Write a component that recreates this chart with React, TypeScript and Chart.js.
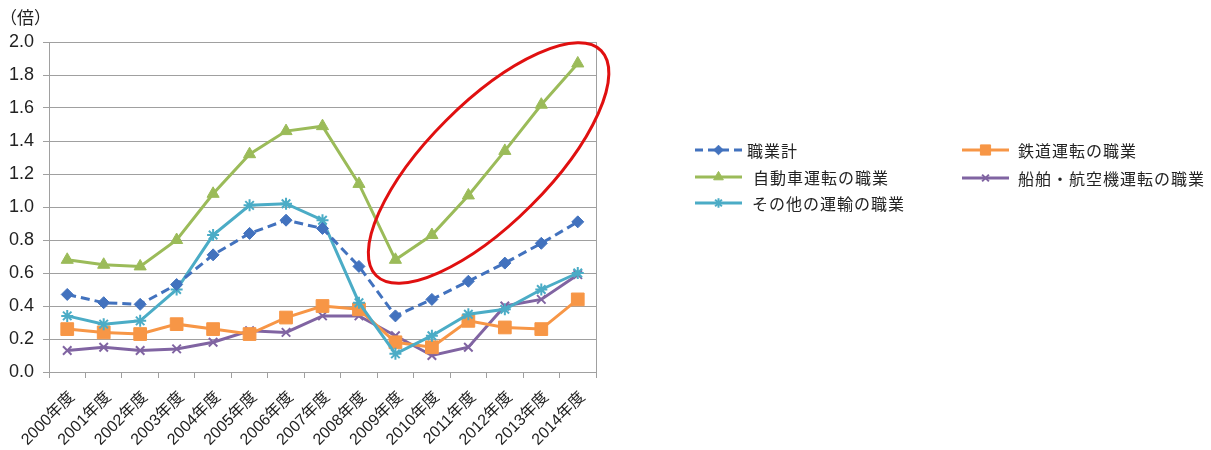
import React, { useEffect, useRef } from 'react';
import { Chart, registerables } from 'chart.js';
import { drawPoint } from 'chart.js/helpers';

Chart.register(...registerables);

const years = [
  '2000年度', '2001年度', '2002年度', '2003年度', '2004年度', '2005年度', '2006年度', '2007年度',
  '2008年度', '2009年度', '2010年度', '2011年度', '2012年度', '2013年度', '2014年度',
];
const allJobs = [0.47, 0.42, 0.41, 0.53, 0.71, 0.84, 0.92, 0.87, 0.64, 0.34, 0.44, 0.55, 0.66, 0.78, 0.91];
const carDriving = [0.68, 0.65, 0.64, 0.80, 1.08, 1.32, 1.46, 1.49, 1.14, 0.68, 0.83, 1.07, 1.34, 1.62, 1.87];
const otherTransport = [0.34, 0.29, 0.31, 0.50, 0.83, 1.01, 1.02, 0.92, 0.42, 0.11, 0.22, 0.35, 0.38, 0.50, 0.60];
const railDriving = [0.26, 0.24, 0.23, 0.29, 0.26, 0.23, 0.33, 0.40, 0.38, 0.18, 0.15, 0.31, 0.27, 0.26, 0.44];
const shipAirDriving = [0.13, 0.15, 0.13, 0.14, 0.18, 0.25, 0.24, 0.34, 0.34, 0.22, 0.10, 0.15, 0.40, 0.44, 0.59];

const seriesNames = ['職業計', '自動車運転の職業', 'その他の運輸の職業', '鉄道運転の職業', '船舶・航空機運転の職業'];
const yTicks = [0, 0.2, 0.4, 0.6, 0.8, 1.0, 1.2, 1.4, 1.6, 1.8, 2.0];
const unitLabel = '（倍）';

// highlight ellipse: ends of its long axis, in data coordinates (category index, value)
const ellipseFrom = { x: 8.47, y: 0.585 };
const ellipseTo = { x: 14.64, y: 1.948 };
const ellipseRatio = 0.378;

const CJK = '"Noto Sans CJK JP", sans-serif';
const LAT = '"Liberation Sans", Arial, "Noto Sans CJK JP", sans-serif';

const styles = [
  { color: '#4272BE', point: 'rectRot', radius: 6, dash: [9, 5], bw: 1 },
  { color: '#9BBB59', point: 'triangle', radius: 7, dash: [], bw: 1 },
  { color: '#4BACC6', point: 'star', radius: 6, dash: [], bw: 2 },
  { color: '#F79646', point: 'rect', radius: 9, dash: [], bw: 1 },
  { color: '#8064A2', point: 'crossRot', radius: 6, dash: [], bw: 2 },
];

const legendPos = [
  { x: 695, y: 150, tx: 747 },
  { x: 695, y: 177, tx: 753 },
  { x: 695, y: 203, tx: 752 },
  { x: 962, y: 150, tx: 1018 },
  { x: 962, y: 178, tx: 1018 },
];

const overlayPlugin = {
  id: 'overlay',
  afterDraw(chart: any) {
    const ctx = chart.ctx;
    const xs = chart.scales.x;
    const ys = chart.scales.y;
    const area = chart.chartArea;
    ctx.save();
    // right border of plot
    ctx.strokeStyle = '#A0A0A0';
    ctx.lineWidth = 1;
    ctx.beginPath();
    ctx.moveTo(Math.round(area.right) + 0.5, area.top);
    ctx.lineTo(Math.round(area.right) + 0.5, area.bottom + 6);
    ctx.stroke();

    // unit label
    ctx.fillStyle = '#222';
    ctx.font = `17px ${CJK}`;
    ctx.textBaseline = 'middle';
    ctx.textAlign = 'left';
    ctx.fillText(unitLabel, 0, 18);

    // ellipse
    const x1 = xs.getPixelForValue(ellipseFrom.x);
    const y1 = ys.getPixelForValue(ellipseFrom.y);
    const x2 = xs.getPixelForValue(ellipseTo.x);
    const y2 = ys.getPixelForValue(ellipseTo.y);
    const cx = (x1 + x2) / 2;
    const cy = (y1 + y2) / 2;
    const a = Math.hypot(x2 - x1, y2 - y1) / 2;
    const ang = Math.atan2(y2 - y1, x2 - x1);
    ctx.strokeStyle = '#E01010';
    ctx.lineWidth = 3;
    ctx.beginPath();
    ctx.ellipse(cx, cy, a, a * ellipseRatio, ang, 0, Math.PI * 2);
    ctx.stroke();

    // legend
    ctx.font = `16px ${CJK}`;
    (ctx as any).letterSpacing = '1px';
    seriesNames.forEach((name, i) => {
      const s = styles[i];
      const p = legendPos[i];
      ctx.strokeStyle = s.color;
      ctx.lineWidth = 3;
      ctx.setLineDash(s.dash.length ? [8, 5] : []);
      ctx.beginPath();
      ctx.moveTo(p.x, p.y);
      ctx.lineTo(p.x + 47, p.y);
      ctx.stroke();
      ctx.setLineDash([]);
      ctx.fillStyle = s.color;
      ctx.lineWidth = s.bw;
      drawPoint(ctx, { pointStyle: s.point, radius: s.radius * 0.8, borderWidth: s.bw, rotation: 0 } as any, p.x + 23.5, p.y);
      ctx.fillStyle = '#222';
      ctx.fillText(name, p.tx, p.y + 1);
    });
    ctx.restore();
  },
};

export default function App() {
  const ref = useRef<HTMLCanvasElement>(null);
  useEffect(() => {
    const seriesData = [allJobs, carDriving, otherTransport, railDriving, shipAirDriving];
    const chart = new Chart(ref.current as HTMLCanvasElement, {
      type: 'line',
      data: {
        labels: years,
        datasets: seriesNames.map((name, i) => ({
          label: name,
          data: seriesData[i],
          borderColor: styles[i].color,
          backgroundColor: styles[i].color,
          pointBackgroundColor: styles[i].color,
          pointBorderColor: styles[i].color,
          borderWidth: 3,
          borderDash: styles[i].dash,
          pointStyle: styles[i].point as any,
          pointRadius: styles[i].radius,
          pointBorderWidth: styles[i].bw,
          tension: 0,
          fill: false,
        })),
      },
      options: {
        animation: false,
        responsive: true,
        maintainAspectRatio: false,
        layout: { padding: { left: 0, top: 42, right: 615, bottom: 0 } },
        plugins: {
          legend: { display: false },
          tooltip: { enabled: false },
          title: { display: false },
        },
        scales: {
          x: {
            type: 'category',
            offset: true,
            grid: { display: true, drawOnChartArea: false, offset: true, tickLength: 6, color: '#A0A0A0' },
            border: { display: true, color: '#A0A0A0', width: 1 },
            ticks: {
              autoSkip: false,
              minRotation: 45,
              maxRotation: 45,
              padding: 10,
              labelOffset: 5,
              color: '#222',
              font: { family: LAT, size: 16 },
            },
            afterFit: (s: any) => { s.height = 78; },
          },
          y: {
            min: 0,
            max: 2,
            afterBuildTicks: (s: any) => { s.ticks = yTicks.map((v) => ({ value: v })); },
            grid: { color: '#A0A0A0', tickLength: 6 },
            border: { display: true, color: '#A0A0A0', width: 1 },
            ticks: {
              padding: 9,
              color: '#222',
              font: { family: LAT, size: 18 },
              callback: (v: any) => Number(v).toFixed(1),
            },
            afterFit: (s: any) => { s.width = 49; },
          },
        },
      },
      plugins: [overlayPlugin],
    });
    return () => chart.destroy();
  }, []);
  return (
    <div style={{ position: 'fixed', left: 0, top: 0, width: 1211, height: 450, background: '#fff' }}>
      <canvas ref={ref} />
    </div>
  );
}
